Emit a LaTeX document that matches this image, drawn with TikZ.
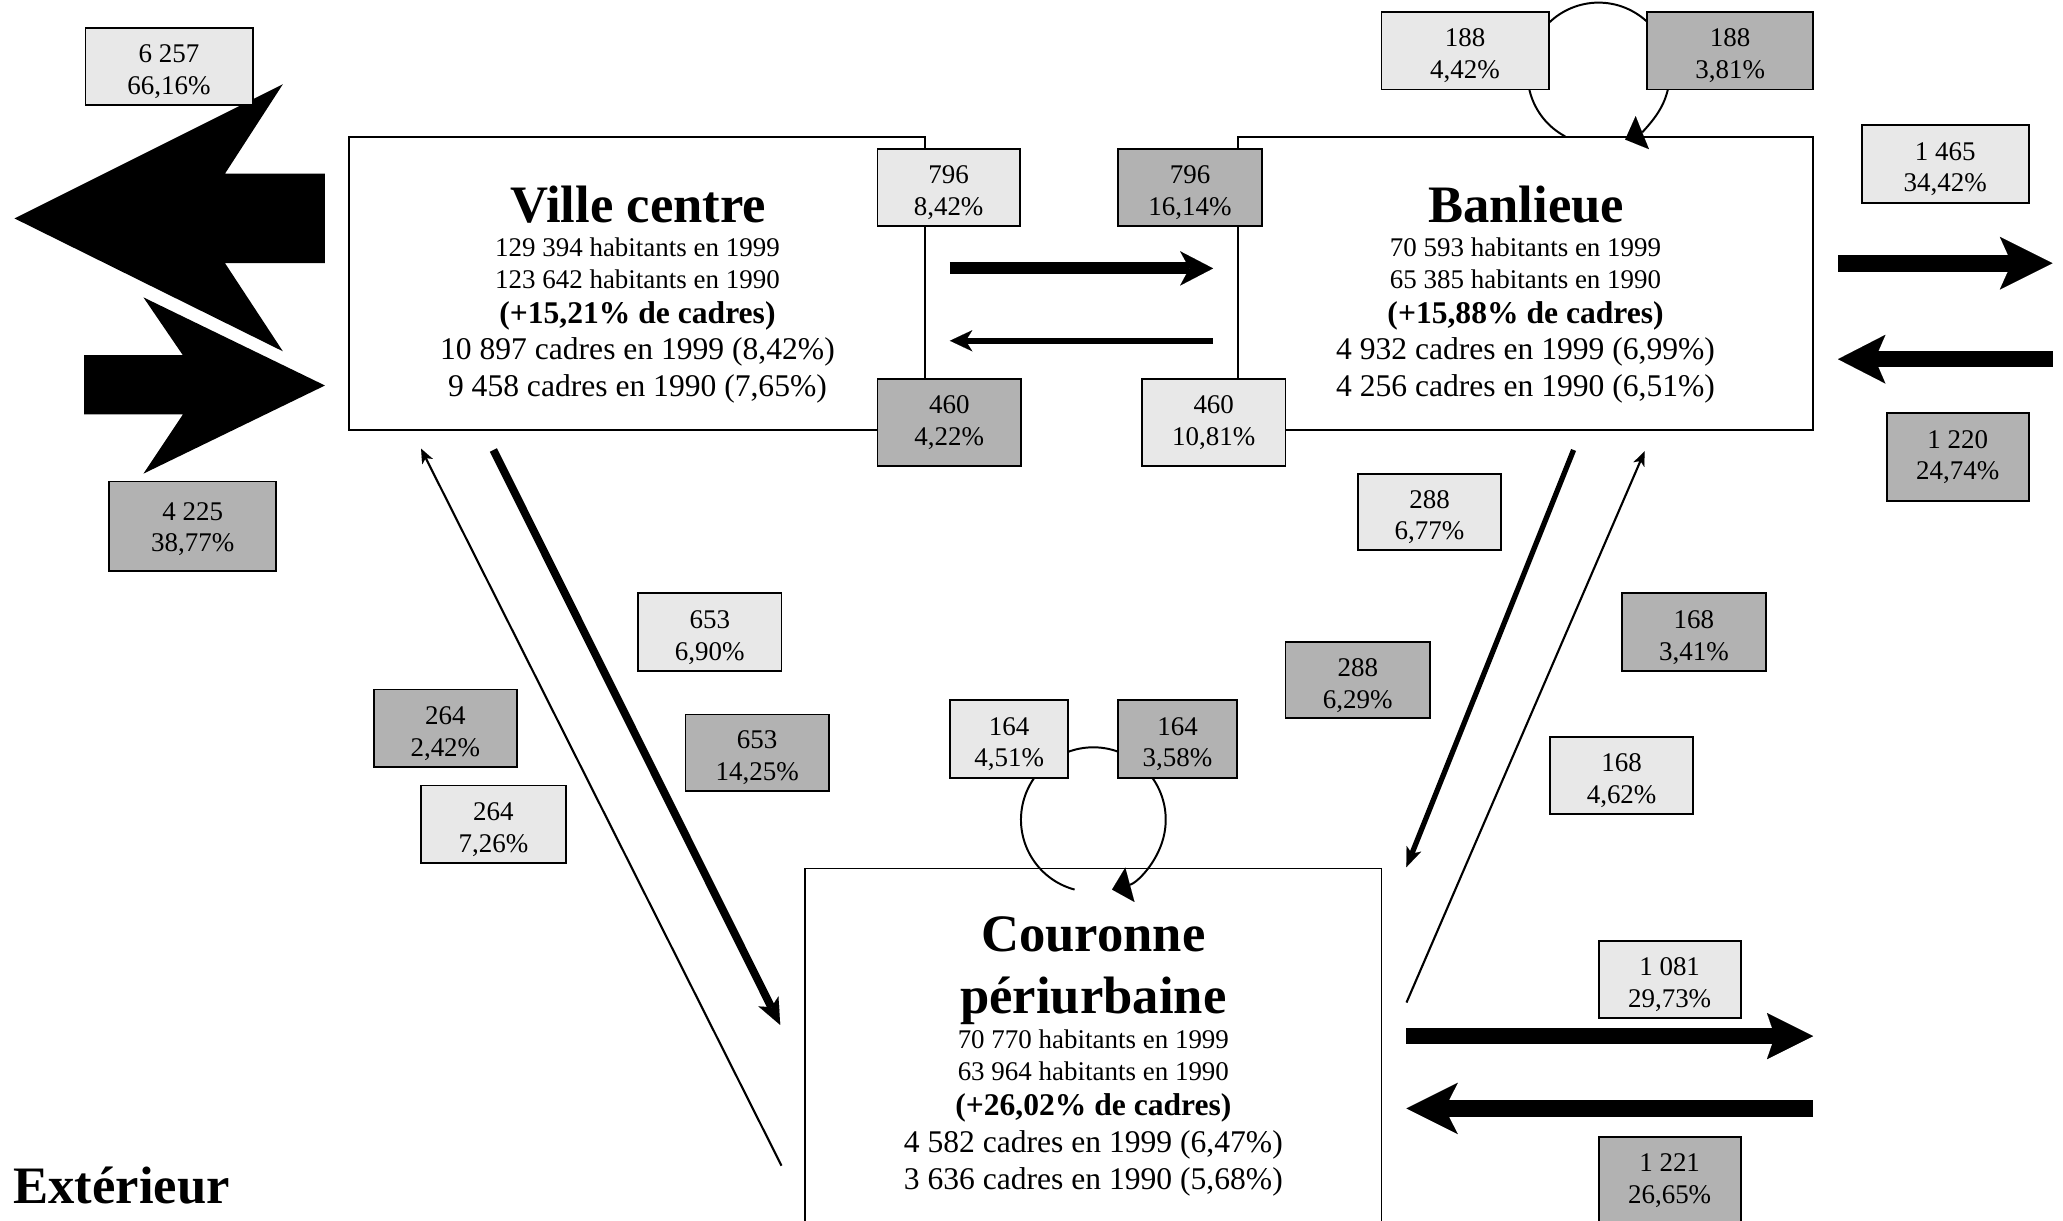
\documentclass[tikz,border=0pt]{standalone}
\usepackage{fontspec}
\setmainfont{Liberation Serif}
\usetikzlibrary{arrows.meta}
\definecolor{lightg}{RGB}{232,232,232}
\definecolor{darkg}{RGB}{178,178,178}
% two-line flow label; the strut sets how low the lines sit in the box
\newcommand\flowlab[3][21.5pt]{\rule{0pt}{#1}#2\\#3}

\begin{document}
\begin{tikzpicture}[x=1pt,y=1pt,
  mainbox/.style={draw, line width=1.3pt, fill=white, inner sep=0pt, outer sep=0pt},
  numbox/.style={draw, line width=1.4pt, inner sep=0pt, outer sep=0pt, align=center,
                 font=\fontsize{20.5}{24}\selectfont},
  lbox/.style={numbox, fill=lightg},
  dbox/.style={numbox, fill=darkg},
  dims/.style 2 args={minimum width=#1pt, minimum height=#2pt},
  ln/.style={anchor=base, inner sep=0pt},
  ttl/.style={ln, font=\fontsize{40}{46}\selectfont\bfseries},
  hab/.style={ln, font=\fontsize{20.5}{24}\selectfont},
  bld/.style={ln, font=\fontsize{24}{28}\selectfont\bfseries},
  cad/.style={ln, font=\fontsize{24}{28}\selectfont},
  loop/.style={line width=1.5pt, -{Triangle[length=14pt,width=27pt,line width=0.01pt]}},
]
\useasboundingbox (0,0) rectangle (1568,-928);
\clip (0,0) rectangle (1568,-928);

% ---- the three zones ----
\node[mainbox, dims={438}{223}] (vc)  at (484,-215.5) {};
\node[mainbox, dims={437}{223}] (ban) at (1159.5,-215.5) {};
\node[mainbox, dims={438}{280}] (cou) at (831,-800) {};

\node[ttl] (vc-t) at (485,-169) {Ville centre};
\node[hab] (vc-1) at (484.5,-195) {129 394 habitants en 1999};
\node[hab] (vc-2) at (484.5,-219) {123 642 habitants en 1990};
\node[bld] (vc-3) at (484.5,-246) {(+15,21\% de cadres)};
\node[cad] (vc-4) at (484.5,-273) {10 897 cadres en 1999 (8,42\%)};
\node[cad] (vc-5) at (484.5,-301) {9 458 cadres en 1990 (7,65\%)};

\node[ttl] (ban-t) at (1160,-169) {Banlieue};
\node[hab] (ban-1) at (1159.5,-195) {70 593 habitants en 1999};
\node[hab] (ban-2) at (1159.5,-219) {65 385 habitants en 1990};
\node[bld] (ban-3) at (1159.5,-246) {(+15,88\% de cadres)};
\node[cad] (ban-4) at (1159.5,-273) {4 932 cadres en 1999 (6,99\%)};
\node[cad] (ban-5) at (1159.5,-301) {4 256 cadres en 1990 (6,51\%)};

\node[ttl] (cou-t1) at (831,-723) {Couronne};
\node[ttl] (cou-t2) at (831,-770) {périurbaine};
\node[hab] (cou-1) at (831,-797) {70 770 habitants en 1999};
\node[hab] (cou-2) at (831,-821) {63 964 habitants en 1990};
\node[bld] (cou-3) at (831,-848) {(+26,02\% de cadres)};
\node[cad] (cou-4) at (831,-876) {4 582 cadres en 1999 (6,47\%)};
\node[cad] (cou-5) at (831,-904) {3 636 cadres en 1990 (5,68\%)};

\node[ttl, anchor=base west] (ext) at (10,-915) {Extérieur};

% ---- exchanges between Ville centre and the outside ----
\fill (247,-132) -- (171,-132) -- (215,-64) -- (11,-166) -- (215,-267)
      -- (171,-200) -- (247,-200) -- cycle;
\fill (64,-270) -- (139,-270) -- (109,-226) -- (247,-293) -- (109,-360)
      -- (139,-315) -- (64,-315) -- cycle;

% ---- end points of the flows ----
\coordinate (vb1) at (722,-204);   \coordinate (vb2) at (922,-204);
\coordinate (bv1) at (922,-259);   \coordinate (bv2) at (722,-259);
\coordinate (bx1) at (1397,-200);  \coordinate (bx2) at (1560,-200);
\coordinate (xb1) at (1560,-273);  \coordinate (xb2) at (1397,-273);
\coordinate (cx1) at (1069,-787.5);\coordinate (cx2) at (1378,-787.5);
\coordinate (xc1) at (1378,-842.5);\coordinate (xc2) at (1069,-842.5);
\coordinate (vcc1) at (375,-342);  \coordinate (vcc2) at (593,-779);
\coordinate (cvc1) at (594,-886);  \coordinate (cvc2) at (320,-341);
\coordinate (bcc1) at (1196,-342); \coordinate (bcc2) at (1069,-659);
\coordinate (cbc1) at (1069,-762); \coordinate (cbc2) at (1250,-343);
\coordinate (bloop) at (1215,-56);
\coordinate (cloop) at (831,-623);

% Ville centre <-> Banlieue
\draw[line width=9pt, -{Stealth[length=25pt,width=26pt,inset=7pt,line width=0.01pt]}] (vb1) -- (vb2);
\draw[line width=4.5pt, -{Stealth[length=17pt,width=16pt,inset=5pt,line width=0.01pt]}] (bv1) -- (bv2);

% Banlieue <-> outside
\draw[line width=13pt, -{Stealth[length=40pt,width=40pt,inset=9pt,line width=0.01pt]}] (bx1) -- (bx2);
\draw[line width=12pt, -{Stealth[length=36pt,width=37pt,inset=8pt,line width=0.01pt]}] (xb1) -- (xb2);

% Couronne <-> outside
\draw[line width=12pt, -{Stealth[length=35pt,width=35pt,inset=6pt,line width=0.01pt]}] (cx1) -- (cx2);
\draw[line width=13pt, -{Stealth[length=39pt,width=39pt,inset=10pt,line width=0.01pt]}] (xc1) -- (xc2);

% Ville centre <-> Couronne
\draw[line width=6pt, -{Stealth[length=20pt,width=17pt,inset=5pt,line width=0.01pt]}] (vcc1) -- (vcc2);
\draw[line width=1.6pt, -{Stealth[length=11pt,width=9pt,inset=3pt,line width=0.01pt]}] (cvc1) -- (cvc2);

% Banlieue <-> Couronne
\draw[line width=4pt, -{Stealth[length=15pt,width=12pt,inset=4pt,line width=0.01pt]}] (bcc1) -- (bcc2);
\draw[line width=1.6pt, -{Stealth[length=11pt,width=9pt,inset=3pt,line width=0.01pt]}] (cbc1) -- (cbc2);

% moves inside a zone
\draw[loop] ([shift={(242:54)}]bloop) arc[start angle=242, end angle=-68, radius=54];
\draw[loop] ([shift={(255:55)}]cloop) arc[start angle=255, end angle=-75, radius=55];

% ---- flow labels ----
\node[lbox, dims={127}{59}] (x-out)  at (128.5,-50.5)  {\flowlab{6 257}{66,16\%}};
\node[dbox, dims={127}{68}] (x-in)   at (146.5,-400)   {\flowlab[18pt]{4 225}{38,77\%}};
\node[lbox, dims={108}{59}] (vb-out) at (721,-142.5)   {\flowlab{796}{8,42\%}};
\node[dbox, dims={109}{66}] (bv-in)  at (721.5,-321)   {460\\4,22\%};
\node[dbox, dims={109}{59}] (vb-in)  at (904.5,-142.5) {\flowlab{796}{16,14\%}};
\node[lbox, dims={109}{66}] (bv-out) at (922.5,-321)   {460\\10,81\%};
\node[lbox, dims={127}{59}] (bb-out) at (1113.5,-38.5) {\flowlab{188}{4,42\%}};
\node[dbox, dims={126}{59}] (bb-in)  at (1315,-38.5)   {\flowlab{188}{3,81\%}};
\node[lbox, dims={127}{59}] (bx-out) at (1478.5,-124.5){\flowlab{1 465}{34,42\%}};
\node[dbox, dims={108}{67}] (xb-in)  at (1488,-347.5)  {1 220\\24,74\%};
\node[lbox, dims={109}{58}] (bc-out) at (1086.5,-389)  {\flowlab{288}{6,77\%}};
\node[dbox, dims={110}{58}] (bc-in)  at (1032,-517)    {\flowlab{288}{6,29\%}};
\node[dbox, dims={109}{59}] (cb-in)  at (1287.5,-480.5){\flowlab{168}{3,41\%}};
\node[lbox, dims={109}{59}] (cb-out) at (1232.5,-589.5){\flowlab{168}{4,62\%}};
\node[lbox, dims={109}{59}] (vc-out) at (539.5,-480.5) {\flowlab{653}{6,90\%}};
\node[dbox, dims={109}{58}] (vc-in)  at (575.5,-572)   {\flowlab{653}{14,25\%}};
\node[dbox, dims={109}{59}] (cv-in)  at (338.5,-553.5) {\flowlab{264}{2,42\%}};
\node[lbox, dims={110}{59}] (cv-out) at (375,-626.5)   {\flowlab{264}{7,26\%}};
\node[lbox, dims={90}{59}]  (cc-out) at (767,-561.5)   {\flowlab{164}{4,51\%}};
\node[dbox, dims={90}{59}]  (cc-in)  at (895,-561.5)   {\flowlab{164}{3,58\%}};
\node[lbox, dims={108}{59}] (cx-out) at (1269,-744.5)  {\flowlab{1 081}{29,73\%}};
\node[dbox, dims={108}{67}] (xc-in)  at (1269,-897.5)  {1 221\\26,65\%};
\end{tikzpicture}
\end{document}
